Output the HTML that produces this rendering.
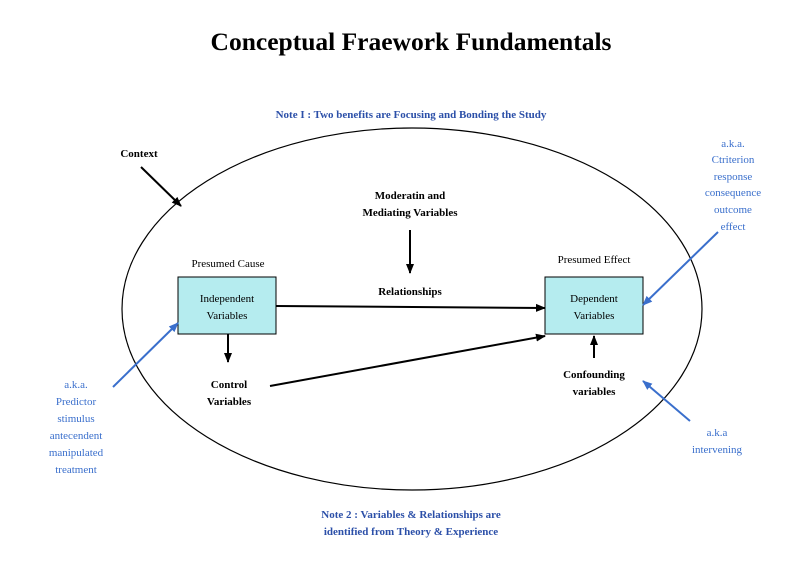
<!DOCTYPE html>
<html><head><meta charset="utf-8"><style>html,body{margin:0;padding:0;background:#fff}svg{display:block}</style></head>
<body>
<svg width="800" height="581" viewBox="0 0 800 581" xmlns="http://www.w3.org/2000/svg" font-family="Liberation Serif, serif">
<defs>
<marker id="ak" markerWidth="10" markerHeight="10" refX="9" refY="5" orient="auto" markerUnits="userSpaceOnUse"><path d="M0,1 L10,5 L0,9 Z" fill="#000"/></marker>
<marker id="ab" markerWidth="10" markerHeight="10" refX="9" refY="5" orient="auto" markerUnits="userSpaceOnUse"><path d="M0,1 L10,5 L0,9 Z" fill="#3a6fcc"/></marker>
</defs>
<text x="411" y="50" text-anchor="middle" font-size="25.5" font-weight="bold">Conceptual Fraework Fundamentals</text>
<text x="411" y="118" text-anchor="middle" font-size="11" font-weight="bold" fill="#2b4fa8">Note I : Two benefits are Focusing and Bonding the Study</text>
<ellipse cx="412" cy="309" rx="290" ry="181" fill="none" stroke="#000" stroke-width="1.2"/>
<text x="139" y="157" text-anchor="middle" font-size="11" font-weight="bold">Context</text>
<line x1="141" y1="167" x2="181" y2="206" stroke="#000" stroke-width="2" marker-end="url(#ak)"/>
<text x="410" y="199" text-anchor="middle" font-size="11" font-weight="bold">Moderatin and</text>
<text x="410" y="216" text-anchor="middle" font-size="11" font-weight="bold">Mediating Variables</text>
<line x1="410" y1="230" x2="410" y2="273" stroke="#000" stroke-width="2" marker-end="url(#ak)"/>
<text x="228" y="267" text-anchor="middle" font-size="11">Presumed Cause</text>
<rect x="178" y="277" width="98" height="57" fill="#b5ecef" stroke="#000" stroke-width="1"/>
<text x="227" y="302" text-anchor="middle" font-size="11">Independent</text>
<text x="227" y="319" text-anchor="middle" font-size="11">Variables</text>
<text x="410" y="295" text-anchor="middle" font-size="11" font-weight="bold">Relationships</text>
<line x1="276" y1="306" x2="545" y2="308" stroke="#000" stroke-width="2" marker-end="url(#ak)"/>
<text x="594" y="263" text-anchor="middle" font-size="11">Presumed Effect</text>
<rect x="545" y="277" width="98" height="57" fill="#b5ecef" stroke="#000" stroke-width="1"/>
<text x="594" y="302" text-anchor="middle" font-size="11">Dependent</text>
<text x="594" y="319" text-anchor="middle" font-size="11">Variables</text>
<line x1="228" y1="334" x2="228" y2="362" stroke="#000" stroke-width="2" marker-end="url(#ak)"/>
<text x="229" y="388" text-anchor="middle" font-size="11" font-weight="bold">Control</text>
<text x="229" y="405" text-anchor="middle" font-size="11" font-weight="bold">Variables</text>
<line x1="270" y1="386" x2="545" y2="336" stroke="#000" stroke-width="2" marker-end="url(#ak)"/>
<text x="594" y="378" text-anchor="middle" font-size="11" font-weight="bold">Confounding</text>
<text x="594" y="395" text-anchor="middle" font-size="11" font-weight="bold">variables</text>
<line x1="594" y1="358" x2="594" y2="336" stroke="#000" stroke-width="2" marker-end="url(#ak)"/>
<g fill="#3a6fcc" font-size="11" text-anchor="middle">
<text x="733" y="147">a.k.a.</text><text x="733" y="163">Ctriterion</text><text x="733" y="180">response</text><text x="733" y="196">consequence</text><text x="733" y="213">outcome</text><text x="733" y="230">effect</text>
<text x="76" y="388">a.k.a.</text><text x="76" y="405">Predictor</text><text x="76" y="422">stimulus</text><text x="76" y="439">antecendent</text><text x="76" y="456">manipulated</text><text x="76" y="473">treatment</text>
<text x="717" y="436">a.k.a</text><text x="717" y="453">intervening</text>
</g>
<line x1="718" y1="232" x2="643" y2="305" stroke="#3a6fcc" stroke-width="2" marker-end="url(#ab)"/>
<line x1="113" y1="387" x2="178" y2="323" stroke="#3a6fcc" stroke-width="2" marker-end="url(#ab)"/>
<line x1="690" y1="421" x2="643" y2="381" stroke="#3a6fcc" stroke-width="2" marker-end="url(#ab)"/>
<text x="411" y="518" text-anchor="middle" font-size="11" font-weight="bold" fill="#2b4fa8">Note 2 : Variables &amp; Relationships are</text>
<text x="411" y="535" text-anchor="middle" font-size="11" font-weight="bold" fill="#2b4fa8">identified from Theory &amp; Experience</text>
</svg>
</body></html>
